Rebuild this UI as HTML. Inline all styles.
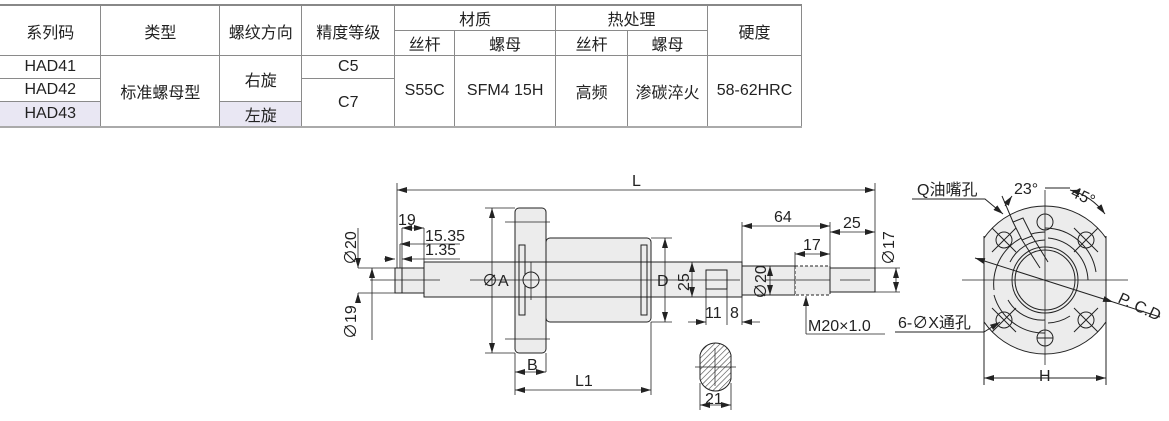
<!DOCTYPE html>
<html><head><meta charset="utf-8"><style>
body{margin:0;background:#fff;width:1169px;height:421px;overflow:hidden;position:relative;font-family:"Liberation Sans","Noto Sans CJK SC",sans-serif}
table{position:absolute;left:0;top:4px;border-collapse:collapse;width:802px;font-size:16px;color:#222}
td{border:1px solid #8a8a8a;text-align:center;padding:0;height:22px}
tr td:first-child{border-left:none}
tr.h td{height:24px}
.l{background:#e9e7f3}
</style></head><body>
<table>
<colgroup><col style="width:101px"><col style="width:119px"><col style="width:82px"><col style="width:93px"><col style="width:60px"><col style="width:101px"><col style="width:72px"><col style="width:80px"><col style="width:94px"></colgroup>
<tr class="h" style="border-top:2px solid #888"><td rowspan="2">系列码</td><td rowspan="2">类型</td><td rowspan="2">螺纹方向</td><td rowspan="2">精度等级</td><td colspan="2">材质</td><td colspan="2">热处理</td><td rowspan="2">硬度</td></tr>
<tr class="h"><td style="border-left:1px solid #8a8a8a">丝杆</td><td>螺母</td><td>丝杆</td><td>螺母</td></tr>
<tr><td>HAD41</td><td rowspan="3">标准螺母型</td><td rowspan="2">右旋</td><td>C5</td><td rowspan="3">S55C</td><td rowspan="3">SFM4 15H</td><td rowspan="3">高频</td><td rowspan="3">渗碳淬火</td><td rowspan="3">58-62HRC</td></tr>
<tr><td>HAD42</td><td rowspan="2" style="border-left:1px solid #8a8a8a">C7</td></tr>
<tr style="border-bottom:2px solid #aaa"><td class="l">HAD43</td><td class="l" style="border-left:1px solid #8a8a8a">左旋</td></tr>
</table>
<svg width="1169" height="421" style="position:absolute;left:0;top:0" font-family="Liberation Sans, Noto Sans CJK SC, sans-serif" font-size="16" fill="#222">
<defs>
<marker id="a" markerWidth="10" markerHeight="6" refX="10" refY="3" orient="auto-start-reverse" markerUnits="userSpaceOnUse"><path d="M0,0L10,3L0,6z" fill="#222"/></marker>
<pattern id="hat" width="4" height="4" patternUnits="userSpaceOnUse" patternTransform="rotate(45)"><line x1="0" y1="0" x2="0" y2="4" stroke="#444" stroke-width="1.2"/></pattern>
<clipPath id="fc"><rect x="984" y="190" width="122" height="180"/></clipPath>
</defs>
<g stroke="#222" stroke-width="1" fill="#ececec">
<rect x="395" y="268" width="7" height="25"/>
<rect x="402" y="268" width="22" height="25"/>
<rect x="424" y="262" width="318" height="35"/>
<rect x="742" y="266" width="53" height="29"/>
<rect x="795" y="266" width="35" height="29" stroke-dasharray="3,2"/>
<rect x="830" y="268" width="45" height="24"/>
<rect x="546" y="238" width="105" height="84" rx="4"/>
<rect x="515" y="208" width="31" height="145" rx="4"/>
<rect x="519" y="245" width="6" height="70" fill="none"/>
<rect x="641" y="245" width="6" height="70" fill="none"/>
<line x1="424" y1="262" x2="742" y2="262"/><line x1="424" y1="297" x2="742" y2="297"/>
<circle cx="531" cy="280" r="8"/>
<rect x="706" y="270" width="21" height="19"/>
</g>
<g stroke="#222" stroke-width="0.8" fill="none">
<line x1="505" y1="222" x2="550" y2="222"/><line x1="505" y1="339" x2="550" y2="339"/>
<line x1="531" y1="262" x2="531" y2="300"/>
<line x1="370" y1="280" x2="440" y2="280"/><line x1="470" y1="280" x2="740" y2="280"/><line x1="765" y1="280" x2="830" y2="280"/><line x1="840" y1="280" x2="870" y2="280"/>
<line x1="397" y1="183" x2="397" y2="268"/><line x1="875" y1="183" x2="875" y2="268"/>
<line x1="397" y1="190" x2="875" y2="190" marker-start="url(#a)" marker-end="url(#a)"/>
<line x1="402" y1="228" x2="402" y2="268"/><line x1="424" y1="228" x2="424" y2="262"/>
<line x1="402" y1="228" x2="424" y2="228" marker-start="url(#a)" marker-end="url(#a)"/>
<line x1="400" y1="244" x2="400" y2="268"/>
<line x1="400" y1="244" x2="460" y2="244" marker-start="url(#a)"/>
<line x1="384" y1="259" x2="395" y2="259" marker-end="url(#a)"/><line x1="402" y1="259" x2="460" y2="259" marker-start="url(#a)"/>
<line x1="358" y1="268" x2="395" y2="268"/><line x1="358" y1="293" x2="395" y2="293"/>
<line x1="358" y1="228" x2="358" y2="268" marker-end="url(#a)"/><line x1="358" y1="293" x2="358" y2="300" marker-start="url(#a)"/>
<line x1="372" y1="268" x2="372" y2="340" marker-start="url(#a)"/>
<line x1="485" y1="208" x2="515" y2="208"/><line x1="485" y1="353" x2="515" y2="353"/>
<line x1="492" y1="208" x2="492" y2="353" marker-start="url(#a)" marker-end="url(#a)"/>
<line x1="651" y1="238" x2="672" y2="238"/><line x1="651" y1="322" x2="672" y2="322"/>
<line x1="665" y1="238" x2="665" y2="322" marker-start="url(#a)" marker-end="url(#a)"/>
<line x1="515" y1="353" x2="515" y2="395"/><line x1="546" y1="353" x2="546" y2="372"/><line x1="651" y1="322" x2="651" y2="395"/>
<line x1="515" y1="372" x2="546" y2="372" marker-start="url(#a)" marker-end="url(#a)"/>
<line x1="515" y1="390" x2="651" y2="390" marker-start="url(#a)" marker-end="url(#a)"/>
<line x1="692" y1="262" x2="692" y2="297" marker-start="url(#a)" marker-end="url(#a)"/>
<line x1="706" y1="289" x2="706" y2="325"/><line x1="727" y1="289" x2="727" y2="325"/><line x1="742" y1="297" x2="742" y2="325"/>
<line x1="688" y1="322" x2="706" y2="322" marker-end="url(#a)"/><line x1="742" y1="322" x2="760" y2="322" marker-start="url(#a)"/>
<line x1="770" y1="266" x2="770" y2="295" marker-start="url(#a)" marker-end="url(#a)"/>
<line x1="742" y1="222" x2="742" y2="262"/><line x1="830" y1="222" x2="830" y2="266"/><line x1="795" y1="252" x2="795" y2="266"/>
<line x1="742" y1="226" x2="830" y2="226" marker-start="url(#a)" marker-end="url(#a)"/>
<line x1="830" y1="232" x2="875" y2="232" marker-start="url(#a)" marker-end="url(#a)"/>
<line x1="795" y1="254" x2="830" y2="254" marker-start="url(#a)" marker-end="url(#a)"/>
<line x1="875" y1="268" x2="900" y2="268"/><line x1="875" y1="292" x2="900" y2="292"/>
<line x1="896" y1="268" x2="896" y2="292" marker-start="url(#a)" marker-end="url(#a)"/>
<line x1="806" y1="334" x2="806" y2="296" marker-end="url(#a)"/><line x1="806" y1="334" x2="885" y2="334"/>
<line x1="700" y1="383" x2="700" y2="410"/><line x1="731" y1="383" x2="731" y2="410"/>
<line x1="700" y1="405" x2="731" y2="405" marker-start="url(#a)" marker-end="url(#a)"/>
</g>
<path d="M700,355 A16,16 0 0 1 731,355 L731,379 A16,16 0 0 1 700,379 Z" fill="url(#hat)" stroke="#222"/>
<line x1="695" y1="367" x2="736" y2="367" stroke="#222" stroke-width="0.7"/><line x1="715" y1="348" x2="715" y2="386" stroke="#222" stroke-width="0.7"/>
<g stroke="#222" fill="none" stroke-width="1">
<circle cx="1045" cy="280" r="74" fill="#ececec" clip-path="url(#fc)"/>
<path d="M984,236 L984,325 M1106,236 L1106,325"/>
<circle cx="1045" cy="280" r="30"/><circle cx="1045" cy="280" r="33"/>
<path d="M1010,262 A40,40 0 0 1 1045,240 M1045,320 A40,40 0 0 1 1008,300 M1048,238 A44,44 0 0 1 1088,280 M1070,316 A44,44 0 0 1 1048,323"/>
<path d="M1045,228 A52,52 0 0 1 1096,272 M994,290 A52,52 0 0 1 1045,232 M1045,333 A52,52 0 0 1 994,295"/>
<circle cx="1045" cy="222" r="8"/><circle cx="1004" cy="240" r="8"/><circle cx="1086" cy="240" r="8"/>
<circle cx="1004" cy="320" r="8"/><circle cx="1086" cy="320" r="8"/><circle cx="1045" cy="338" r="8"/>
<path d="M992,228 L1016,252 M1016,228 L992,252 M1074,228 L1098,252 M1098,228 L1074,252 M992,308 L1016,332 M1016,308 L992,332 M1074,308 L1098,332 M1098,308 L1074,332 M1037,338 L1053,338"/>
<path d="M1013,222 L1022,240 L1032,236 L1023,218 Z" fill="#ececec"/>
<path d="M1022,240 L1040,268 M1032,236 L1048,262"/>
<line x1="1045" y1="190" x2="1045" y2="365" stroke-width="0.8"/>
<line x1="962" y1="280" x2="1128" y2="280" stroke-width="0.8"/>
<line x1="975" y1="258" x2="1113" y2="302" marker-start="url(#a)" marker-end="url(#a)"/>
<line x1="1113" y1="302" x2="1160" y2="317"/>
<line x1="984" y1="325" x2="984" y2="385"/><line x1="1106" y1="325" x2="1106" y2="385"/>
<line x1="984" y1="378" x2="1106" y2="378" marker-start="url(#a)" marker-end="url(#a)"/>
<path d="M912,199 L985,199 L1003,214" marker-end="url(#a)"/>
<path d="M895,332 L984,332 L1000,322" marker-end="url(#a)"/>
<line x1="1045" y1="188" x2="1070" y2="188"/>
<path d="M1070,190 A65,65 0 0 1 1105,214" marker-start="url(#a)" marker-end="url(#a)"/>
<line x1="1002" y1="196" x2="1013" y2="222"/>
<line x1="1005" y1="206" x2="1012" y2="196" marker-end="url(#a)"/>
</g>
<text x="632" y="186">L</text>
<text x="398" y="225">19</text><text x="425" y="241">15.35</text><text x="425" y="255">1.35</text>
<text x="482" y="286">∅A</text><text x="657" y="286">D</text>
<text x="527" y="370">B</text><text x="575" y="386">L1</text><text x="705" y="404">21</text>
<text x="705" y="318">11</text><text x="730" y="318">8</text>
<text x="774" y="222">64</text><text x="843" y="228">25</text><text x="803" y="250">17</text>
<text x="808" y="331">M20×1.0</text>
<text transform="translate(356,265) rotate(-90)">∅20</text>
<text transform="translate(356,339) rotate(-90)">∅19</text>
<text transform="translate(689,291) rotate(-90)">25</text>
<text transform="translate(766,299) rotate(-90)">∅20</text>
<text transform="translate(894,265) rotate(-90)">∅17</text>
<text x="917" y="195">Q油嘴孔</text>
<text x="1014" y="194">23°</text>
<text transform="translate(1070,196) rotate(25)">45°</text>
<text transform="translate(1117,302) rotate(25)">P. C.D</text>
<text x="898" y="328">6-∅X通孔</text>
<text x="1039" y="381">H</text>
</svg>
</body></html>
